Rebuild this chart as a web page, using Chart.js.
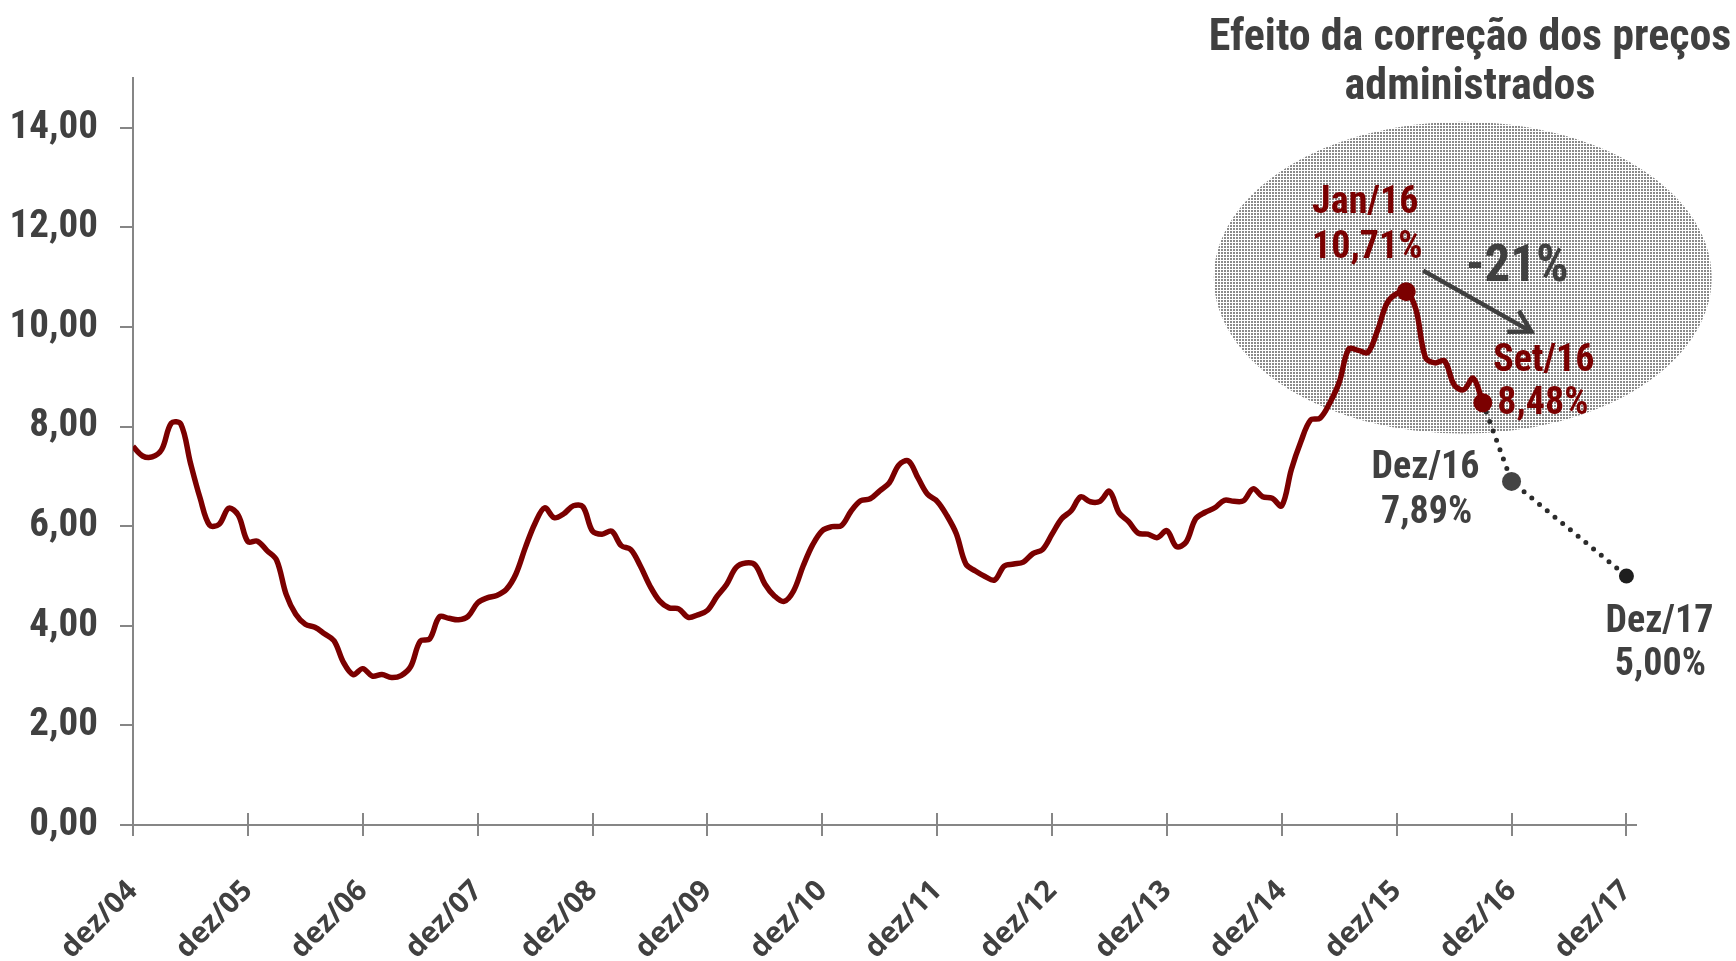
<!DOCTYPE html>
<html>
<head>
<meta charset="utf-8">
<script src="https://cdn.jsdelivr.net/npm/chart.js@4.4.1/dist/chart.umd.min.js"></script>
<style>
  html, body { margin: 0; padding: 0; background: #fff; }
  #wrap { width: 1736px; height: 961px; }
</style>
</head>
<body>
<div id="wrap"><canvas id="ipcaChart" width="1736" height="961"></canvas></div>
<script>
// IPCA acumulado em 12 meses (%), de dez/04 a set/16
const ipca04 = [7.60];
const ipca05 = [7.41, 7.39, 7.54, 8.07, 8.05, 7.27, 6.57, 6.02, 6.04, 6.36, 6.22, 5.69];
const ipca06 = [5.70, 5.51, 5.32, 4.63, 4.23, 4.03, 3.97, 3.84, 3.70, 3.26, 3.02, 3.14];
const ipca07 = [2.99, 3.02, 2.96, 3.00, 3.18, 3.69, 3.74, 4.18, 4.15, 4.12, 4.19, 4.46];
const ipca08 = [4.56, 4.61, 4.73, 5.04, 5.58, 6.06, 6.37, 6.17, 6.25, 6.41, 6.39, 5.90];
const ipca09 = [5.84, 5.90, 5.61, 5.53, 5.20, 4.80, 4.50, 4.36, 4.34, 4.17, 4.22, 4.31];
const ipca10 = [4.59, 4.83, 5.17, 5.26, 5.22, 4.84, 4.60, 4.49, 4.70, 5.20, 5.63, 5.91];
const ipca11 = [5.99, 6.01, 6.30, 6.51, 6.55, 6.71, 6.87, 7.23, 7.31, 6.97, 6.64, 6.50];
const ipca12 = [6.22, 5.85, 5.24, 5.10, 4.99, 4.92, 5.20, 5.24, 5.28, 5.45, 5.53, 5.84];
const ipca13 = [6.15, 6.31, 6.59, 6.49, 6.50, 6.70, 6.27, 6.09, 5.86, 5.84, 5.77, 5.91];
const ipca14 = [5.59, 5.68, 6.15, 6.28, 6.37, 6.52, 6.50, 6.51, 6.75, 6.59, 6.56, 6.41];
const ipca15 = [7.14, 7.70, 8.13, 8.17, 8.47, 8.89, 9.56, 9.53, 9.49, 9.93, 10.48, 10.67];
const ipca16 = [10.71, 10.36, 9.39, 9.28, 9.32, 8.84, 8.74, 8.97, 8.48];

// projeção (meses contados a partir de dez/04)
const projMeses = [141, 144, 156];
const projValores = [8.48, 6.90, 5.00];

// eixos
const tickMeses = [0, 12, 24, 36, 48, 60, 72, 84, 96, 108, 120, 132, 144, 156];
const tickRotulos = ['dez/04', 'dez/05', 'dez/06', 'dez/07', 'dez/08', 'dez/09', 'dez/10',
                     'dez/11', 'dez/12', 'dez/13', 'dez/14', 'dez/15', 'dez/16', 'dez/17'];
const yTicks = [0, 2, 4, 6, 8, 10, 12, 14];

const ipca = [].concat(ipca04, ipca05, ipca06, ipca07, ipca08, ipca09, ipca10,
                       ipca11, ipca12, ipca13, ipca14, ipca15, ipca16);
const mesPico = 133;   // jan/16
const mesSet16 = 141;

const VERMELHO = '#7b0000';
const CINZA = '#404040';
const EIXO = '#868686';
const FONTE_COND = "'Roboto Condensed', 'DejaVu Sans Condensed', sans-serif";
const FONTE_X = "'Open Sans', sans-serif";

// textura pontilhada da elipse
function criarTextura() {
    const c = document.createElement('canvas');
    c.width = 3; c.height = 3;
    const g = c.getContext('2d');
    g.fillStyle = '#ffffff';
    g.fillRect(0, 0, 3, 3);
    g.fillStyle = '#8a8a8a';
    g.fillRect(0, 0, 2, 2);
    return g.createPattern(c, 'repeat');
}

const fundoPlugin = {
    id: 'fundo',
    beforeDatasetsDraw(chart) {
        const ctx = chart.ctx;
        const x = chart.scales.x, y = chart.scales.y;

        // elipse destacando o efeito
        const cx = x.getPixelForValue(138.9), cy = y.getPixelForValue(10.99);
        const rx = x.getPixelForValue(138.9 + 26) - cx;
        const ry = cy - y.getPixelForValue(10.99 + 3.13);
        ctx.save();
        ctx.fillStyle = criarTextura();
        ctx.beginPath();
        ctx.ellipse(cx, cy, rx, ry, 0, 0, Math.PI * 2);
        ctx.fill();
        ctx.restore();

        // marcas do eixo x cruzando a linha
        ctx.save();
        ctx.strokeStyle = EIXO;
        ctx.lineWidth = 2;
        const base = y.getPixelForValue(0);
        tickMeses.forEach(function(m) {
            const px = Math.round(x.getPixelForValue(m));
            ctx.beginPath();
            ctx.moveTo(px, base - 12);
            ctx.lineTo(px, base);
            ctx.stroke();
        });
        ctx.restore();
    }
};

const anotacoesPlugin = {
    id: 'anotacoes',
    afterDatasetsDraw(chart) {
        const ctx = chart.ctx;
        const x = chart.scales.x, y = chart.scales.y;
        const pico = { x: x.getPixelForValue(mesPico), y: y.getPixelForValue(ipca[mesPico]) };
        const set16 = { x: x.getPixelForValue(mesSet16), y: y.getPixelForValue(ipca[mesSet16]) };
        const dez16 = { x: x.getPixelForValue(projMeses[1]), y: y.getPixelForValue(projValores[1]) };
        const dez17 = { x: x.getPixelForValue(projMeses[2]), y: y.getPixelForValue(projValores[2]) };

        function texto(t, p, dx, dy, cor, tam) {
            ctx.fillStyle = cor;
            ctx.font = 'bold ' + tam + 'px ' + FONTE_COND;
            ctx.textAlign = 'center';
            ctx.textBaseline = 'alphabetic';
            ctx.fillText(t, p.x + dx, p.y + dy);
        }

        ctx.save();
        // seta -21%
        const ax0 = pico.x + 17, ay0 = pico.y - 21;
        const ax1 = pico.x + 125, ay1 = pico.y + 40;
        const ang = Math.atan2(ay1 - ay0, ax1 - ax0);
        ctx.strokeStyle = CINZA;
        ctx.lineWidth = 4.5;
        ctx.beginPath();
        ctx.moveTo(ax0, ay0);
        ctx.lineTo(ax1, ay1);
        ctx.stroke();
        ctx.beginPath();
        ctx.moveTo(ax1 + 24 * Math.cos(ang + Math.PI - 0.52), ay1 + 24 * Math.sin(ang + Math.PI - 0.52));
        ctx.lineTo(ax1, ay1);
        ctx.lineTo(ax1 + 24 * Math.cos(ang + Math.PI + 0.52), ay1 + 24 * Math.sin(ang + Math.PI + 0.52));
        ctx.stroke();

        texto('Jan/16', pico, -41, -79, VERMELHO, 38);
        texto('10,71%', pico, -39, -34, VERMELHO, 38);
        texto('-21%', pico, 111, -11, CINZA, 51);
        texto('Set/16', set16, 61, -32, VERMELHO, 38);
        texto('8,48%', set16, 60, 11, VERMELHO, 38);
        texto('Dez/16', dez16, -86, -3, CINZA, 38);
        texto('7,89%', dez16, -85, 42, CINZA, 38);
        texto('Dez/17', dez17, 33, 56, CINZA, 38);
        texto('5,00%', dez17, 34, 99, CINZA, 38);

        // título
        ctx.fillStyle = CINZA;
        ctx.font = 'bold 44px ' + FONTE_COND;
        ctx.textAlign = 'center';
        ctx.fillText('Efeito da correção dos preços', 1470, 50);
        ctx.fillText('administrados', 1470, 99);
        ctx.restore();
    }
};

new Chart(document.getElementById('ipcaChart').getContext('2d'), {
    type: 'line',
    data: {
        datasets: [{
            label: 'IPCA 12 meses',
            data: ipca.map(function(v, i) { return { x: i, y: v }; }),
            borderColor: VERMELHO,
            borderWidth: 5.5,
            tension: 0.35,
            pointRadius: function(c) { return (c.dataIndex === mesPico || c.dataIndex === mesSet16) ? 9.5 : 0; },
            pointBackgroundColor: VERMELHO,
            pointBorderWidth: 0,
            fill: false
        }, {
            label: 'Projeção',
            data: projMeses.map(function(m, i) { return { x: m, y: projValores[i] }; }),
            borderColor: '#2b2b2b',
            borderWidth: 5,
            borderDash: [0, 10],
            borderCapStyle: 'round',
            tension: 0,
            pointRadius: [0, 9.5, 7.5],
            pointBackgroundColor: ['#2b2b2b', '#444444', '#1e1e1e'],
            pointBorderWidth: 0,
            fill: false
        }]
    },
    options: {
        responsive: false,
        animation: false,
        layout: { padding: { top: 78, right: 100, left: 0, bottom: 0 } },
        plugins: { legend: { display: false }, tooltip: { enabled: false } },
        scales: {
            x: {
                type: 'linear',
                min: 0,
                max: 157,
                afterBuildTicks: function(s) { s.ticks = tickMeses.map(function(v) { return { value: v }; }); },
                afterFit: function(s) { s.height = 136; },
                border: { color: EIXO, width: 2 },
                grid: { drawOnChartArea: false, color: EIXO, lineWidth: 2, tickLength: 11 },
                ticks: {
                    autoSkip: false,
                    minRotation: 45,
                    maxRotation: 45,
                    padding: 38,
                    color: CINZA,
                    font: { family: FONTE_X, weight: 'bold', size: 29 },
                    callback: function(v) { return tickRotulos[tickMeses.indexOf(v)]; }
                }
            },
            y: {
                min: 0,
                max: 15,
                afterBuildTicks: function(s) { s.ticks = yTicks.map(function(v) { return { value: v }; }); },
                afterFit: function(s) { s.width = 133; },
                border: { color: EIXO, width: 2 },
                grid: { drawOnChartArea: false, color: EIXO, lineWidth: 2, tickLength: 13 },
                ticks: {
                    padding: 22,
                    color: CINZA,
                    font: { family: FONTE_COND, weight: 'bold', size: 39 },
                    callback: function(v) { return v.toFixed(2).replace('.', ','); }
                }
            }
        }
    },
    plugins: [fundoPlugin, anotacoesPlugin]
});
</script>
</body>
</html>
